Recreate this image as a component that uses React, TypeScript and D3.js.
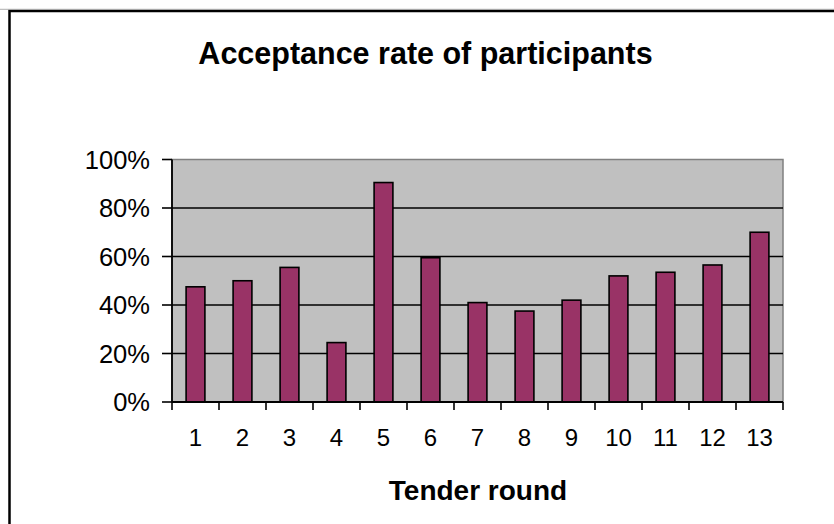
import React from "react";
import * as d3 from "d3";

const rounds = ["1", "2", "3", "4", "5", "6", "7", "8", "9", "10", "11", "12", "13"];
const acceptance = [47.5, 50, 55.5, 24.5, 90.5, 59.5, 41, 37.5, 42, 52, 53.5, 56.5, 70];
const yTicks = [0, 20, 40, 60, 80, 100];

const W = 834;
const H = 524;
const plot = { left: 172, right: 783, top: 159.5, bottom: 402 };
const font = "'Liberation Sans', Arial, sans-serif";

export default function App() {
  const x = d3.scaleBand<string>().domain(rounds).range([plot.left, plot.right]).paddingInner(0).paddingOuter(0);
  const y = d3.scaleLinear().domain([0, 100]).range([plot.bottom, plot.top]);
  const bw = x.bandwidth() * 0.4;

  return (
    <svg width={W} height={H} style={{ position: "absolute", left: 0, top: 0, background: "#fff" }}>
      <rect x={9.5} y={11} width={W + 20} height={H + 20} fill="#fff" stroke="#000" strokeWidth={2.5} />
      <line x1={0} x2={W} y1={9.3} y2={9.3} stroke="#999" strokeWidth={0.8} />
      <text x={425.5} y={64} textAnchor="middle" fontFamily={font} fontWeight="bold" fontSize={30.5}>
        Acceptance rate of participants
      </text>
      <rect x={plot.left} y={plot.top} width={plot.right - plot.left} height={plot.bottom - plot.top} fill="#C0C0C0" stroke="#808080" strokeWidth={1.5} />
      {yTicks.filter((t) => t > 0 && t < 100).map((t) => (
        <line key={t} x1={plot.left} x2={plot.right} y1={y(t)} y2={y(t)} stroke="#000" strokeWidth={1.6} />
      ))}
      {acceptance.map((v, i) => (
        <rect
          key={i}
          x={x(rounds[i])! + (x.bandwidth() - bw) / 2}
          y={y(v)}
          width={bw}
          height={y(0) - y(v)}
          fill="#993366"
          stroke="#000"
          strokeWidth={1.6}
        />
      ))}
      <line x1={plot.left} x2={plot.left} y1={plot.top} y2={plot.bottom} stroke="#000" strokeWidth={1.8} />
      <line x1={plot.left} x2={plot.right} y1={plot.bottom} y2={plot.bottom} stroke="#000" strokeWidth={1.8} />
      {yTicks.map((t) => (
        <g key={t}>
          <line x1={162} x2={plot.left} y1={y(t)} y2={y(t)} stroke="#000" strokeWidth={1.6} />
          <text x={150} y={y(t) + 9} textAnchor="end" fontFamily={font} fontSize={25.5}>
            {t}%
          </text>
        </g>
      ))}
      {rounds.map((r, i) => (
        <line key={"t" + i} x1={x(r)!} x2={x(r)!} y1={plot.bottom} y2={410} stroke="#000" strokeWidth={1.6} />
      ))}
      <line x1={plot.right} x2={plot.right} y1={plot.bottom} y2={410} stroke="#000" strokeWidth={1.6} />
      {rounds.map((r) => (
        <text key={"l" + r} x={x(r)! + x.bandwidth() / 2} y={446} textAnchor="middle" fontFamily={font} fontSize={24}>
          {r}
        </text>
      ))}
      <text x={478} y={500} textAnchor="middle" fontFamily={font} fontWeight="bold" fontSize={28}>
        Tender round
      </text>
    </svg>
  );
}
